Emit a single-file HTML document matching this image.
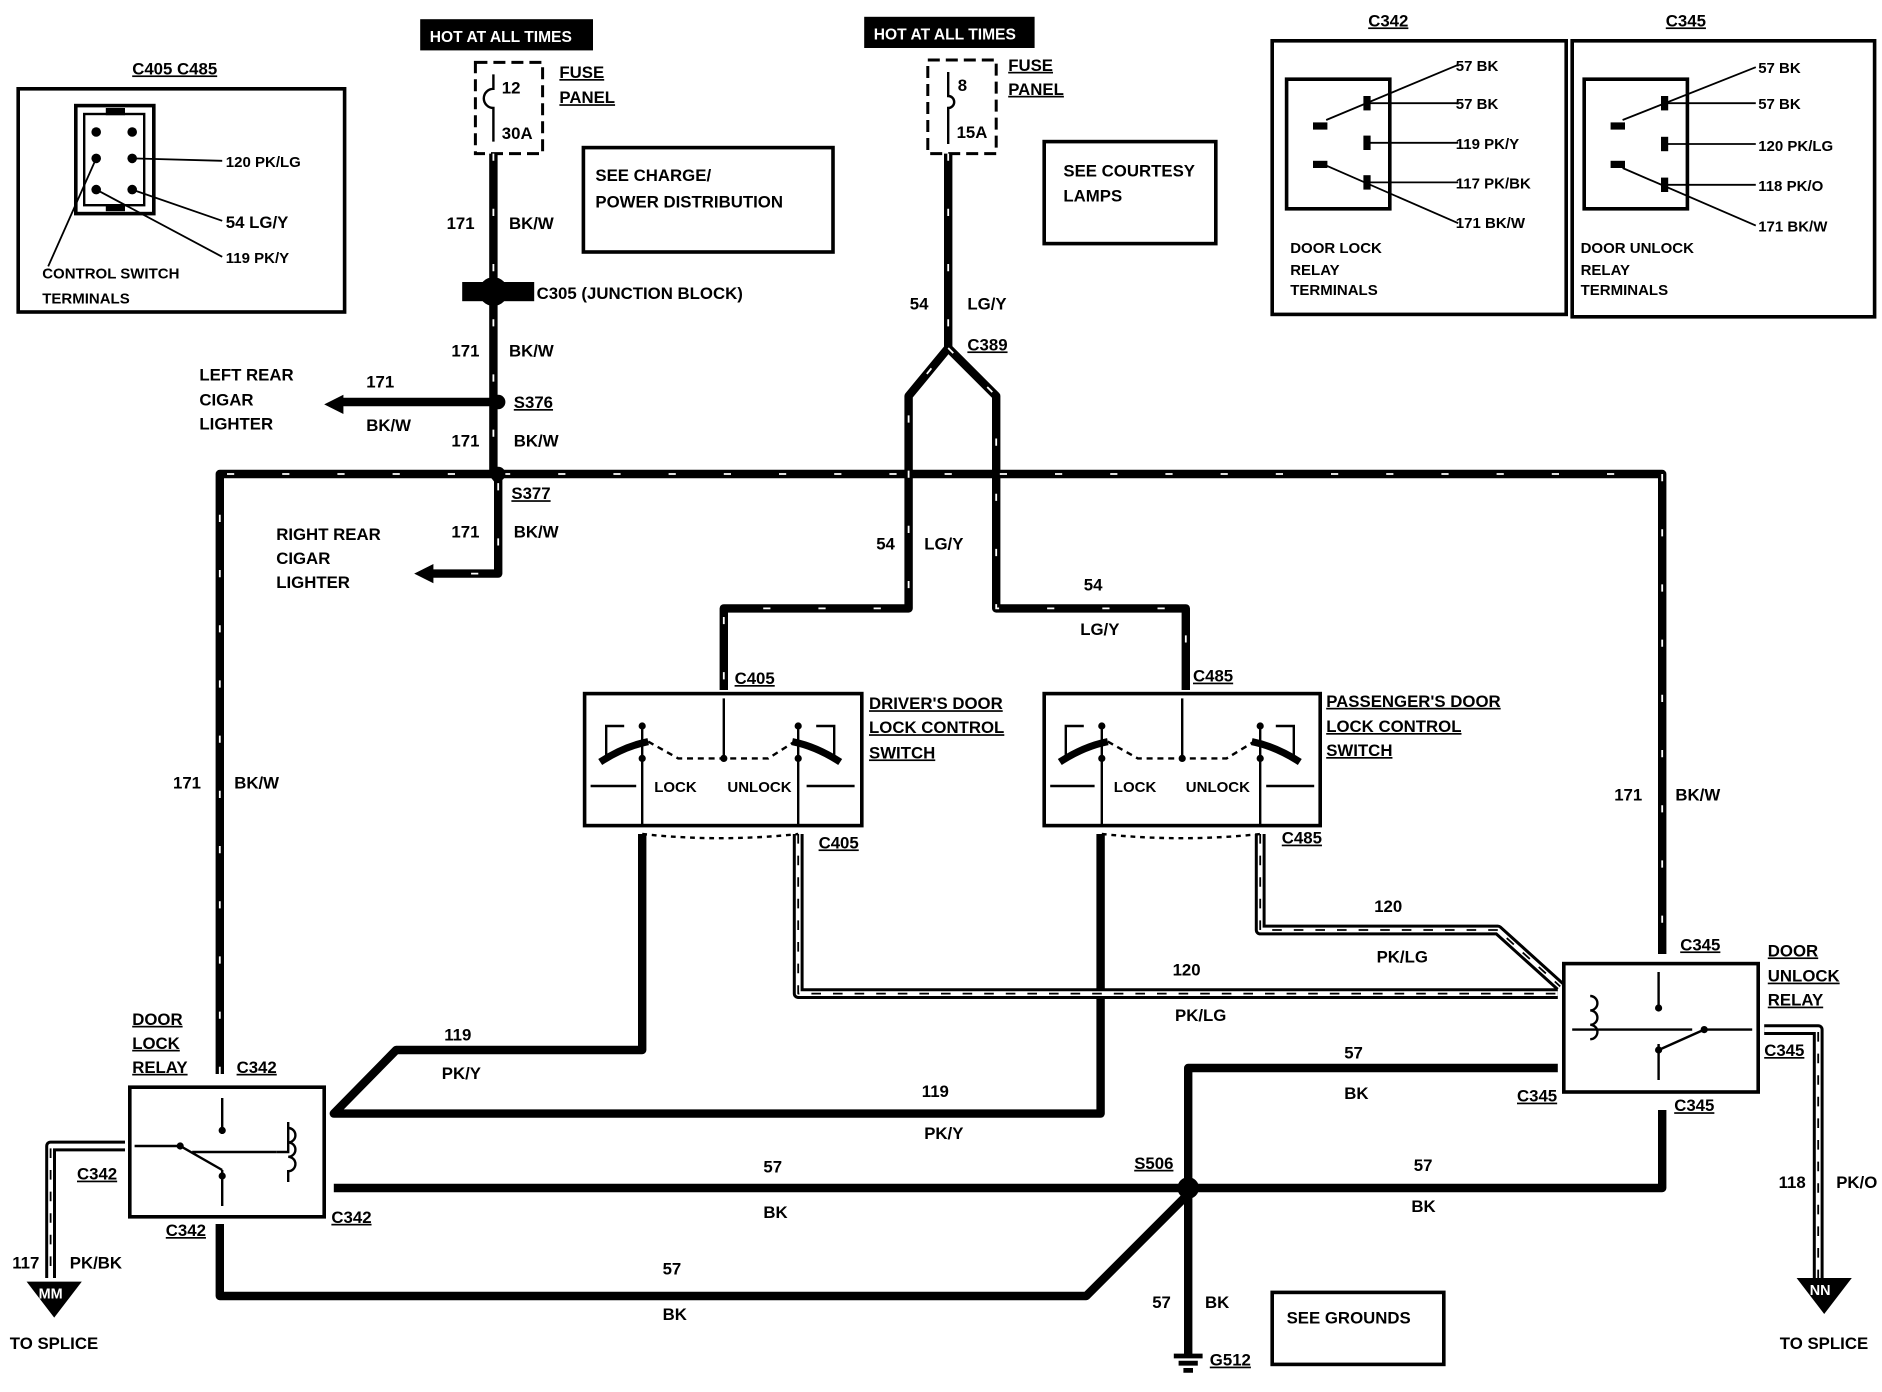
<!DOCTYPE html>
<html><head><meta charset="utf-8"><style>
html,body{margin:0;padding:0;background:#fff;width:1882px;height:1392px;overflow:hidden}
text{font-family:"Liberation Sans",sans-serif;font-weight:bold;font-size:14px;fill:#000}
.s{font-size:12.5px}
</style></head><body>
<svg width="1882" height="1392" viewBox="0 0 1568 1160" xmlns="http://www.w3.org/2000/svg">
<g fill="none" stroke="#000">
<rect x="15" y="74" width="272" height="186" stroke-width="3"/>
<rect x="63" y="88" width="65" height="90" stroke-width="3"/>
<rect x="70" y="95" width="50" height="76" stroke-width="2"/>
<line x1="110" y1="132" x2="185" y2="134" stroke-width="1.5"/>
<line x1="110" y1="158" x2="185" y2="184" stroke-width="1.5"/>
<line x1="80" y1="158" x2="185" y2="214" stroke-width="1.5"/>
<line x1="80" y1="132" x2="40" y2="222" stroke-width="1.5"/>
<rect x="396" y="52" width="56" height="76" stroke-width="2.5" stroke-dasharray="10 5"/>
<path d="M411,62 v12 a6,6 0 0 0 0,16 v28" stroke-width="2"/>
<rect x="773" y="50" width="57" height="78" stroke-width="2.5" stroke-dasharray="10 5"/>
<path d="M790,60 v20 a5,5 0 0 1 0,10 v30" stroke-width="2"/>
<rect x="486" y="123" width="208" height="87" stroke-width="3"/>
<rect x="870" y="118" width="143" height="85" stroke-width="3"/>
<rect x="1060" y="1077" width="143" height="60" stroke-width="3"/>
<rect x="1060" y="34" width="245" height="228" stroke-width="3"/>
<rect x="1072" y="66" width="86" height="108" stroke-width="3"/>
<rect x="1310" y="34" width="252" height="230" stroke-width="3"/>
<rect x="1320" y="66" width="86" height="108" stroke-width="3"/>
<g stroke-width="1.5">
<line x1="1105" y1="100" x2="1215" y2="54"/><line x1="1140" y1="86" x2="1215" y2="86"/><line x1="1140" y1="119" x2="1215" y2="119"/><line x1="1140" y1="152" x2="1215" y2="152"/><line x1="1105" y1="138" x2="1215" y2="186"/>
<line x1="1352" y1="100" x2="1463" y2="56"/><line x1="1388" y1="86" x2="1463" y2="86"/><line x1="1388" y1="120" x2="1463" y2="120"/><line x1="1388" y1="154" x2="1463" y2="154"/><line x1="1352" y1="140" x2="1463" y2="188"/>
</g>
<rect x="487" y="578" width="231" height="110" stroke-width="3"/>
<rect x="870" y="578" width="230" height="110" stroke-width="3"/>
<rect x="108" y="906" width="162" height="108" stroke-width="3"/>
<rect x="1303" y="803" width="162" height="107" stroke-width="3"/>
</g>
<g fill="none" stroke="#000" stroke-width="7" stroke-linejoin="round">
<path d="M411,128 V395 L415,400 V478 H360"/>
<path d="M415,335 H285"/>
<path d="M183,895 V395 H1385 V795"/>
<path d="M790,128 V290 L757,330 V507 H603 V575"/>
<path d="M790,290 L830,330 V507 H988 V575"/>
<path d="M535,695 V875 H330 L278,928 H917 V695"/>
<path d="M278,990 H1385 V925"/>
<path d="M990,1130 V890 H1298"/>
<path d="M183,1020 V1080 H905 L990,995"/>
</g>
<g fill="none" stroke="#fff" stroke-width="1.5" stroke-dasharray="6 40">
<path d="M411,128 V395 L415,400 V478 H360"/>
<path d="M183,895 V395 H1385 V795"/>
<path d="M790,128 V290 L757,330 V507 H603 V575"/>
<path d="M790,290 L830,330 V507 H988 V575"/>
</g>
<g fill="none" stroke-linejoin="round">
<path d="M665,695 V828 H1298" stroke="#000" stroke-width="9"/>
<path d="M1050,695 V775 H1248 L1300,822" stroke="#000" stroke-width="9"/>
<path d="M1470,858 H1515 V1065" stroke="#000" stroke-width="9"/>
<path d="M104,955 H42 V1065" stroke="#000" stroke-width="9"/>
<g stroke="#fff" stroke-width="4">
<path d="M665,695 V828 H1298"/><path d="M1050,695 V775 H1248 L1300,822"/><path d="M1470,858 H1515 V1065"/><path d="M104,955 H42 V1065"/>
</g>
<g stroke="#000" stroke-width="1.5" stroke-dasharray="8 10">
<path d="M665,695 V828 H1298"/><path d="M1050,695 V775 H1248 L1300,822"/><path d="M1515,860 V1065"/><path d="M42,957 V1065"/>
</g>
</g>
<path d="M270,337 l16,-8 v16 z"/>
<path d="M345,478 l16,-8 v16 z"/>
<path d="M22,1068 h46 l-23,30 z"/>
<path d="M1497,1065 h46 l-23,30 z"/>
<rect x="385" y="235" width="60" height="16"/>
<circle cx="411" cy="243" r="12"/>
<circle cx="415" cy="335" r="6"/><circle cx="415" cy="395" r="6"/>
<circle cx="990" cy="990" r="9"/>
<path d="M978,1130 h24 M982,1136 h16 M986,1142 h8" stroke="#000" stroke-width="4"/>
<g fill="none" stroke="#000" stroke-width="2">
<path d="M535,605 V688 M603,582 V632 M665,605 V688 M505,630 V605 H520 M695,630 V605 H680"/>
<path d="M500,635 Q520,622 540,618" stroke-width="6"/><path d="M700,635 Q680,622 660,618" stroke-width="6"/>
<path d="M540,618 L565,632 H640 L662,618" stroke-dasharray="5 4"/>
<path d="M492,655 H530 M712,655 H672"/>
<path d="M918,605 V688 M985,582 V632 M1050,605 V688 M888,630 V605 H903 M1078,630 V605 H1063"/>
<path d="M883,635 Q903,622 923,618" stroke-width="6"/><path d="M1083,635 Q1063,622 1043,618" stroke-width="6"/>
<path d="M923,618 L948,632 H1022 L1045,618" stroke-dasharray="5 4"/>
<path d="M875,655 H912 M1095,655 H1055"/>
<path d="M535,695 Q600,702 665,695" stroke-dasharray="4 4"/><path d="M918,695 Q985,702 1050,695" stroke-dasharray="4 4"/>
<path d="M185,915 V945 M185,975 V1005 M112,955 H150 L185,975 M160,960 H230" />
<path d="M230,960 H240 V935 M240,985 V975"/><path d="M240,940 a6,6 0 0 1 0,12 a6,6 0 0 1 0,12 a6,6 0 0 1 0,12" />
<path d="M1382,810 V840 M1382,870 V900 M1460,858 H1420 L1382,875 M1310,858 H1410"/>
<path d="M1325,830 a6,6 0 0 1 0,12 a6,6 0 0 1 0,12 a6,6 0 0 1 0,12"/>
</g>
<g fill="#000">
<circle cx="535" cy="605" r="3"/><circle cx="535" cy="632" r="3"/><circle cx="603" cy="632" r="3"/><circle cx="665" cy="605" r="3"/><circle cx="665" cy="632" r="3"/>
<circle cx="918" cy="605" r="3"/><circle cx="918" cy="632" r="3"/><circle cx="985" cy="632" r="3"/><circle cx="1050" cy="605" r="3"/><circle cx="1050" cy="632" r="3"/>
<circle cx="185" cy="942" r="3"/><circle cx="185" cy="980" r="3"/><circle cx="150" cy="955" r="3"/>
<circle cx="1382" cy="840" r="3"/><circle cx="1382" cy="875" r="3"/><circle cx="1420" cy="858" r="3"/>
<rect x="1094" y="102" width="12" height="6"/><rect x="1094" y="134" width="12" height="6"/>
<rect x="1136" y="80" width="6" height="12"/><rect x="1136" y="113" width="6" height="12"/><rect x="1136" y="146" width="6" height="12"/>
<rect x="1342" y="102" width="12" height="6"/><rect x="1342" y="134" width="12" height="6"/>
<rect x="1384" y="80" width="6" height="12"/><rect x="1384" y="114" width="6" height="12"/><rect x="1384" y="148" width="6" height="12"/>
<circle cx="80" cy="110" r="4"/><circle cx="80" cy="132" r="4"/><circle cx="80" cy="158" r="4"/><circle cx="110" cy="110" r="4"/><circle cx="110" cy="132" r="4"/><circle cx="110" cy="158" r="4"/>
<rect x="88" y="90" width="16" height="6"/><rect x="88" y="170" width="16" height="6"/>
<rect x="350" y="16" width="144" height="26"/><rect x="720" y="14" width="142" height="26"/>
</g>
<text x="358" y="35" style="fill:#fff;font-size:13px">HOT AT ALL TIMES</text>
<text x="728" y="33" style="fill:#fff;font-size:13px">HOT AT ALL TIMES</text>
<g>
<text x="110" y="62" text-decoration="underline">C405 C485</text>
<text x="188" y="139" class="s">120 PK/LG</text><text x="188" y="190">54 LG/Y</text><text x="188" y="219" class="s">119 PK/Y</text>
<text x="35" y="232" class="s">CONTROL SWITCH</text><text x="35" y="253" class="s">TERMINALS</text>
<text x="418" y="78">12</text><text x="418" y="116">30A</text>
<text x="466" y="65" text-decoration="underline">FUSE</text><text x="466" y="86" text-decoration="underline">PANEL</text>
<text x="798" y="76">8</text><text x="797" y="115">15A</text>
<text x="840" y="59" text-decoration="underline">FUSE</text><text x="840" y="79" text-decoration="underline">PANEL</text>
<text x="496" y="151">SEE CHARGE/</text><text x="496" y="173">POWER DISTRIBUTION</text>
<text x="886" y="147">SEE COURTESY</text><text x="886" y="168">LAMPS</text>
<text x="372" y="191">171</text><text x="424" y="191">BK/W</text>
<text x="447" y="249">C305 (JUNCTION BLOCK)</text>
<text x="376" y="297">171</text><text x="424" y="297">BK/W</text>
<text x="166" y="317">LEFT REAR</text><text x="166" y="338">CIGAR</text><text x="166" y="358">LIGHTER</text>
<text x="305" y="323">171</text><text x="305" y="359">BK/W</text>
<text x="428" y="340" text-decoration="underline">S376</text>
<text x="376" y="372">171</text><text x="428" y="372">BK/W</text>
<text x="426" y="416" text-decoration="underline">S377</text>
<text x="230" y="450">RIGHT REAR</text><text x="230" y="470">CIGAR</text><text x="230" y="490">LIGHTER</text>
<text x="376" y="448">171</text><text x="428" y="448">BK/W</text>
<text x="758" y="258">54</text><text x="806" y="258">LG/Y</text>
<text x="806" y="292" text-decoration="underline">C389</text>
<text x="730" y="458">54</text><text x="770" y="458">LG/Y</text>
<text x="903" y="492">54</text><text x="900" y="529">LG/Y</text>
<text x="612" y="570" text-decoration="underline">C405</text><text x="994" y="568" text-decoration="underline">C485</text>
<text x="724" y="591" text-decoration="underline">DRIVER'S DOOR</text><text x="724" y="611" text-decoration="underline">LOCK CONTROL</text><text x="724" y="632" text-decoration="underline">SWITCH</text>
<text x="1105" y="589" text-decoration="underline">PASSENGER'S DOOR</text><text x="1105" y="610" text-decoration="underline">LOCK CONTROL</text><text x="1105" y="630" text-decoration="underline">SWITCH</text>
<text x="545" y="660" class="s">LOCK</text><text x="606" y="660" class="s">UNLOCK</text>
<text x="928" y="660" class="s">LOCK</text><text x="988" y="660" class="s">UNLOCK</text>
<text x="682" y="707" text-decoration="underline">C405</text><text x="1068" y="703" text-decoration="underline">C485</text>
<text x="144" y="657">171</text><text x="195" y="657">BK/W</text>
<text x="1345" y="667">171</text><text x="1396" y="667">BK/W</text>
<text x="1145" y="760">120</text><text x="1147" y="802">PK/LG</text>
<text x="977" y="813">120</text><text x="979" y="851">PK/LG</text>
<text x="1400" y="792" text-decoration="underline">C345</text>
<text x="1473" y="797" text-decoration="underline">DOOR</text><text x="1473" y="818" text-decoration="underline">UNLOCK</text><text x="1473" y="838" text-decoration="underline">RELAY</text>
<text x="1470" y="880" text-decoration="underline">C345</text>
<text x="370" y="867">119</text><text x="368" y="899">PK/Y</text>
<text x="110" y="854" text-decoration="underline">DOOR</text><text x="110" y="874" text-decoration="underline">LOCK</text><text x="110" y="894" text-decoration="underline">RELAY</text>
<text x="197" y="894" text-decoration="underline">C342</text>
<text x="1120" y="882">57</text><text x="1120" y="916">BK</text>
<text x="1264" y="918" text-decoration="underline">C345</text><text x="1395" y="926" text-decoration="underline">C345</text>
<text x="768" y="914">119</text><text x="770" y="949">PK/Y</text>
<text x="64" y="983" text-decoration="underline">C342</text>
<text x="636" y="977">57</text><text x="636" y="1015">BK</text>
<text x="945" y="974" text-decoration="underline">S506</text>
<text x="1178" y="976">57</text><text x="1176" y="1010">BK</text>
<text x="1482" y="990">118</text><text x="1530" y="990">PK/O</text>
<text x="138" y="1030" text-decoration="underline">C342</text><text x="276" y="1019" text-decoration="underline">C342</text>
<text x="10" y="1057">117</text><text x="58" y="1057">PK/BK</text>
<text x="32" y="1082" style="fill:#fff;font-size:12px">MM</text><text x="1508" y="1079" style="fill:#fff;font-size:12px">NN</text>
<text x="8" y="1124">TO SPLICE</text><text x="1483" y="1124">TO SPLICE</text>
<text x="552" y="1062">57</text><text x="552" y="1100">BK</text>
<text x="960" y="1090">57</text><text x="1004" y="1090">BK</text>
<text x="1072" y="1103">SEE GROUNDS</text>
<text x="1008" y="1138" text-decoration="underline">G512</text>
<text x="1140" y="22" text-decoration="underline">C342</text><text x="1388" y="22" text-decoration="underline">C345</text>
<text x="1213" y="59" class="s">57 BK</text><text x="1213" y="91" class="s">57 BK</text><text x="1213" y="124" class="s">119 PK/Y</text><text x="1213" y="157" class="s">117 PK/BK</text><text x="1213" y="190" class="s">171 BK/W</text>
<text x="1465" y="61" class="s">57 BK</text><text x="1465" y="91" class="s">57 BK</text><text x="1465" y="126" class="s">120 PK/LG</text><text x="1465" y="159" class="s">118 PK/O</text><text x="1465" y="193" class="s">171 BK/W</text>
<text x="1075" y="211" class="s">DOOR LOCK</text><text x="1075" y="229" class="s">RELAY</text><text x="1075" y="246" class="s">TERMINALS</text>
<text x="1317" y="211" class="s">DOOR UNLOCK</text><text x="1317" y="229" class="s">RELAY</text><text x="1317" y="246" class="s">TERMINALS</text>
</g>
</svg>
</body></html>
